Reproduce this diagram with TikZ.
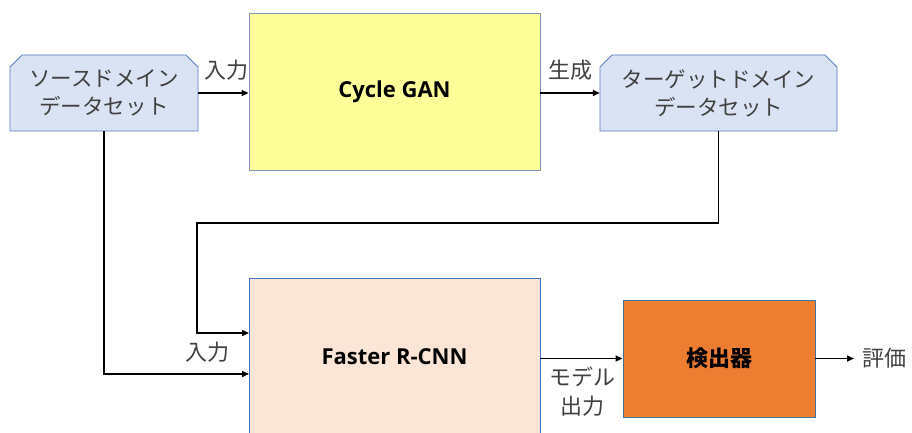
\documentclass[tikz,border=0pt]{standalone}
\usepackage{fontspec}
\setmainfont{Open Sans}
\newfontfamily\jp{Noto Sans CJK JP}
\usetikzlibrary{arrows.meta}
\definecolor{dsfill}{HTML}{DAE3F3}
\definecolor{dsline}{HTML}{5B7FBF}
\definecolor{ganfill}{HTML}{FFFF99}
\definecolor{ganline}{HTML}{8497B0}
\definecolor{frcfill}{HTML}{FBE5D6}
\definecolor{frcline}{HTML}{4472C4}
\definecolor{detfill}{HTML}{ED7D31}
\definecolor{detline}{HTML}{41719C}
\definecolor{txtgray}{HTML}{404040}
\tikzset{
  dsbox/.style={minimum width=188pt, minimum height=76pt, inner sep=0pt, align=center,
    font=\jp\fontsize{21.5}{28}\selectfont, text=txtgray},
  bigbox/.style={draw, line width=0.8pt, minimum width=291pt, minimum height=157pt, inner sep=0pt,
    font=\bfseries\fontsize{22}{26}\selectfont},
  lbl/.style={font=\jp\fontsize{22}{29}\selectfont, text=txtgray, align=center, inner sep=1pt},
  arr/.style={line width=1.5pt, -{Triangle[length=7pt,width=6pt]}},
}
\begin{document}
\begin{tikzpicture}[x=1pt,y=-1pt]
\useasboundingbox (0,0) rectangle (912,433);
% dataset box outlines (chamfered top corners)
\coordinate (srcc) at (104,93);
\coordinate (tgtc) at (718.5,93);
\foreach \c/\w in {srcc/94,tgtc/118.5}{
  \draw[dsline, fill=dsfill, line width=0.8pt]
    ([xshift=-\w pt, yshift=26pt]\c) -- ([xshift=-\w pt+12pt, yshift=38pt]\c)
    -- ([xshift=\w pt-12pt, yshift=38pt]\c) -- ([xshift=\w pt, yshift=26pt]\c)
    -- ([xshift=\w pt, yshift=-38pt]\c) -- ([xshift=-\w pt, yshift=-38pt]\c) -- cycle;
}
\node[dsbox] (src) at (srcc) {ソースドメイン\\データセット};
\node[dsbox, minimum width=237pt] (tgt) at (tgtc) {ターゲットドメイン\\データセット};
% main boxes
\node[bigbox, fill=ganfill, draw=ganline] (cyc) at (394.5,91.5) {Cycle GAN};
\node[bigbox, fill=frcfill, draw=frcline] (frc) at (394.5,356.5) {Faster R-CNN};
\node[draw=detline, fill=detfill, line width=0.8pt, minimum width=192pt, minimum height=117pt, inner sep=0pt,
  font=\jp\bfseries\fontsize{22}{26}\selectfont] (det) at (719,358.5) {検出器};
\node[lbl, anchor=west, inner sep=0pt] (ev) at (862,358.5) {評価};
% labels
\node[lbl] (l1) at (226,70) {入力};
\node[lbl] (l2) at (570,70) {生成};
\node[lbl] (l3) at (207,352) {入力};
\node[lbl] (l4) at (582,392) {モデル\\出力};
% coordinates
\coordinate (k1) at (197,223);
\coordinate (k2) at (249,333);
\coordinate (k3) at (249,374);
% connectors
\draw[arr] (src.east) -- (src.east -| cyc.west);
\draw[arr] (cyc.east |- tgt.west) -- (tgt.west);
\draw[arr] (src.south) |- (k3);
\draw[arr] (tgt.south) |- (k1) |- (k2);
\draw[arr] (frc.east |- det.west) -- (det.west);
\draw[arr] (det.east) -- ([xshift=-8pt]ev.west);
\end{tikzpicture}
\end{document}
